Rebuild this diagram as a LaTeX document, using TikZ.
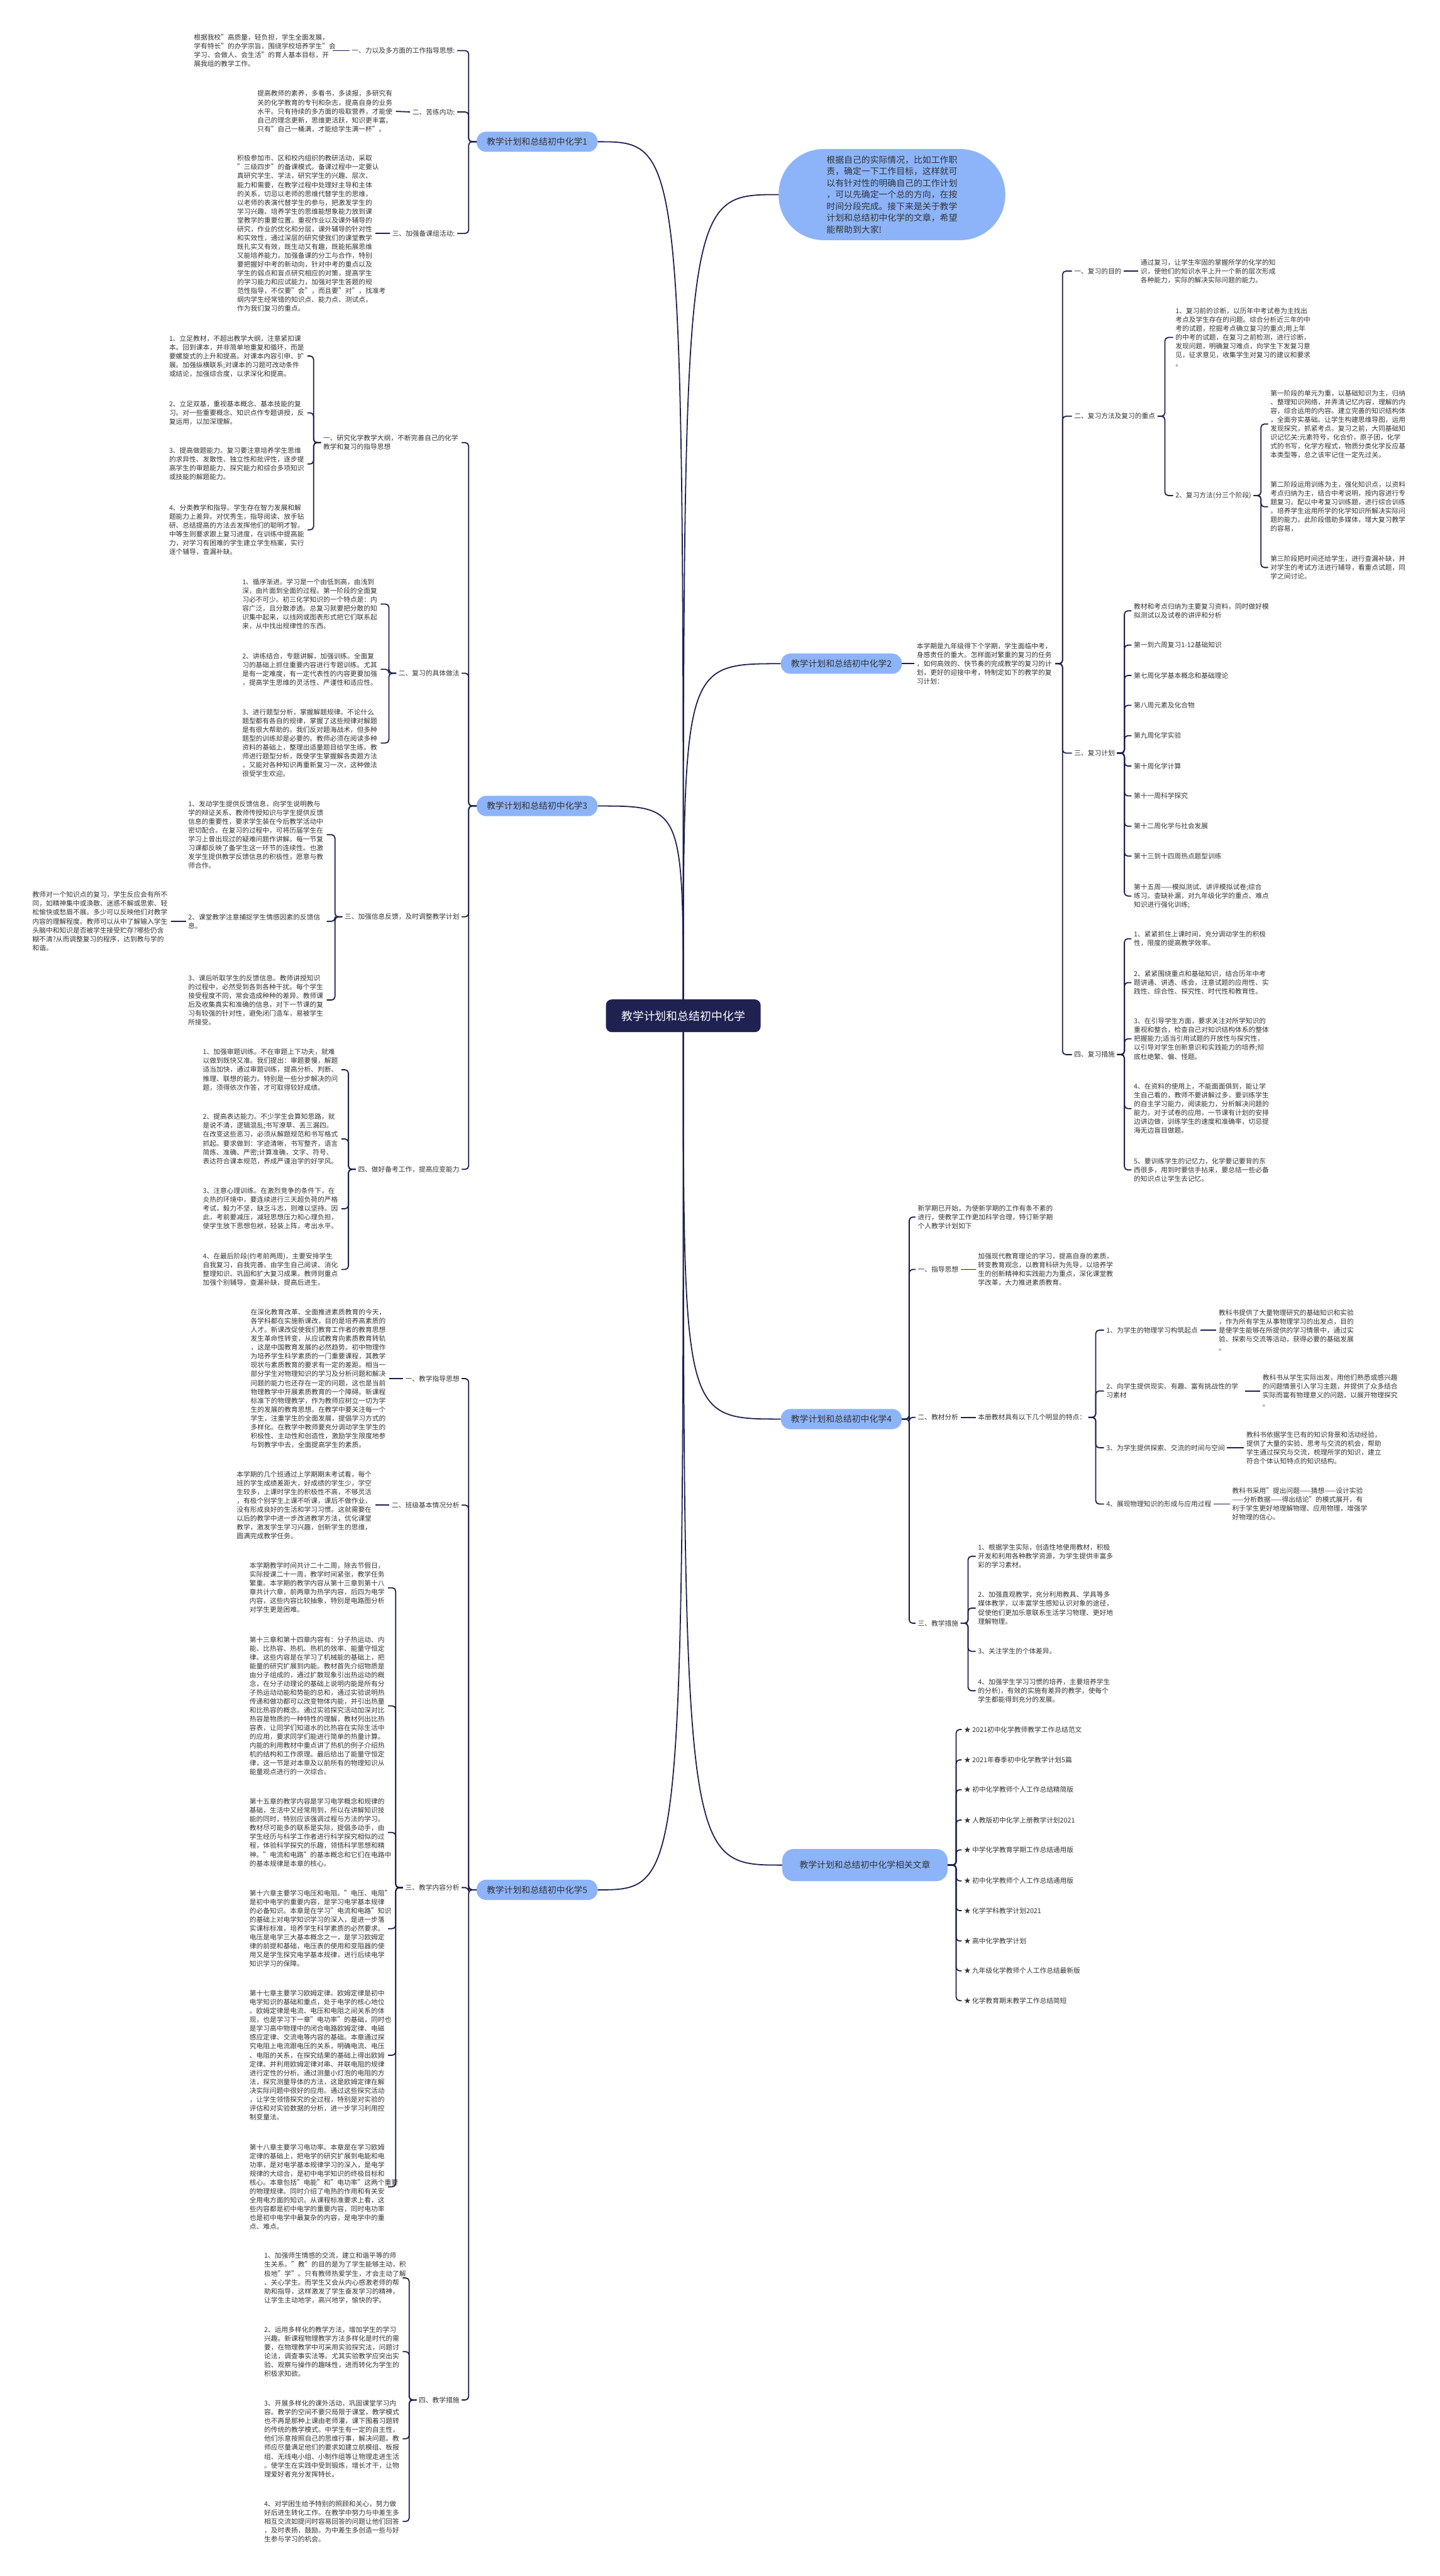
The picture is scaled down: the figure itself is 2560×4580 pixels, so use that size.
\documentclass[tikz,border=0pt]{standalone}
\usepackage{fontspec}
\setmainfont{Noto Sans CJK SC}
\usetikzlibrary{backgrounds}
\definecolor{brfill}{RGB}{141,180,249}
\definecolor{rootfill}{RGB}{31,34,81}
\definecolor{lnkc}{RGB}{29,31,79}
\definecolor{txtc}{RGB}{51,51,51}

\begin{document}
\begin{tikzpicture}[x=1pt,y=-1pt,
  txt/.style={font=\fontsize{12}{15.7}\selectfont, text=txtc, inner xsep=4pt, inner ysep=1pt, align=left},
  para/.style={txt, text width=242pt},
  br/.style={fill=brfill, rounded corners=17pt, font=\fontsize{15.5}{20}\selectfont, text=txtc, minimum width=215pt, minimum height=36pt, inner sep=2pt},
  rootbox/.style={fill=rootfill, text=white, rounded corners=10pt, minimum width=275pt, minimum height=58pt, font=\fontsize{20}{24}\selectfont},
  lnk/.style={draw=lnkc, line width=2pt, rounded corners=6pt},
  trunk/.style={draw=lnkc, line width=2pt}]
\useasboundingbox (0,0) rectangle (2560,4580);

% centre and main branches
\node[rootbox] (root) at (1215,1806) {教学计划和总结初中化学};
\node[br, rounded corners=80pt, minimum width=403pt, minimum height=162pt, align=left, font=\fontsize{15.5}{20.7}\selectfont] (intro) at (1586,346) {根据自己的实际情况，比如工作职\\责，确定一下工作目标，这样就可\\以有针对性的明确自己的工作计划\\，可以先确定一个总的方向，在按\\时间分段完成。接下来是关于教学\\计划和总结初中化学的文章，希望\\能帮助到大家!};
\node[br] (b1) at (955,252) {教学计划和总结初中化学1};
\node[br] (b2) at (1496,1180) {教学计划和总结初中化学2};
\node[br] (b3) at (955,1433) {教学计划和总结初中化学3};
\node[br] (b4) at (1496,2523) {教学计划和总结初中化学4};
\node[br] (b5) at (955,3360) {教学计划和总结初中化学5};
\node[br, minimum width=294pt, minimum height=57pt, rounded corners=20pt] (b6) at (1538,3316) {教学计划和总结初中化学相关文章};

\begin{scope}[on background layer]
\fill[white] (0,0) rectangle (2560,4580);
\foreach \n in {b1,b3,b5}
  \draw[trunk] (root.center) .. controls (root.center |- \n.east) .. (\n.east);
\foreach \n in {intro,b2,b4,b6}
  \draw[trunk] (root.center) .. controls (root.center |- \n.west) .. (\n.west);
\end{scope}

% branch 1
\node[txt, anchor=east] (s11) at (813,90) {一、力以及多方面的工作指导思想:};
\node[txt, anchor=east] (s12) at (813,199) {二、苦练内功:};
\node[txt, anchor=east] (s13) at (813,415) {三、加强备课组活动:};
\node[para, anchor=east] (l11) at (591,90) {根据我校"高质量，轻负担，学生全面发展，\\学有特长"的办学宗旨，围绕学校培养学生"会\\学习、会做人、会生活"的育人基本目标，开\\展我组的教学工作。};
\node[para, anchor=east] (l12) at (704,198) {提高教师的素养，多看书，多读报，多研究有\\关的化学教育的专刊和杂志，提高自身的业务\\水平。只有持续的多方面的吸取营养，才能使\\自己的理念更新，思维更活跃，知识更丰富。\\只有"自己一桶满，才能给学生满一杯"。};
\node[para, anchor=east] (l13) at (668,415) {积极参加市、区和校内组织的教研活动，采取\\"三级四步"的备课模式。备课过程中一定要认\\真研究学生、学法，研究学生的兴趣、层次、\\能力和需要，在教学过程中处理好主导和主体\\的关系，切忌以老师的思维代替学生的思维，\\以老师的表演代替学生的参与，把激发学生的\\学习兴趣、培养学生的思维能想象能力放到课\\堂教学的重要位置。重视作业以及课外辅导的\\研究，作业的优化和分层，课外辅导的针对性\\和实效性，通过深层的研究使我们的课堂教学\\既扎实又有效，既生动又有趣，既能拓展思维\\又能培养能力。加强备课的分工与合作，特别\\要把握好中考的新动向，针对中考的重点以及\\学生的弱点和盲点研究相应的对策，提高学生\\的学习能力和应试能力，加强对学生答题的规\\范性指导，不仅要"会"，而且要"对"，找准考\\纲内学生经常错的知识点、能力点、测试点，\\作为我们复习的重点。};
\foreach \n in {s11,s12,s13}
  \draw[lnk] (b1.west) -- ++(-14,0) |- (\n.east);
\draw[lnk] (s11.west) -- (l11.east);
\draw[lnk] (s12.west) -- (l12.east);
\draw[lnk] (s13.west) -- (l13.east);

% branch 2
\node[para, anchor=west] (p2) at (1626,1180) {本学期是九年级得下个学期，学生面临中考，\\身感责任的重大。怎样面对繁重的复习的任务\\，如何高效的、快节奏的完成教学的复习的计\\划，更好的迎接中考，特制定如下的教学的复\\习计划：};
\draw[lnk] (b2.east) -- (p2.west);
\node[txt, anchor=west] (s21) at (1906,482) {一、复习的目的};
\node[txt, anchor=west] (s22) at (1906,740) {二、复习方法及复习的重点};
\node[txt, anchor=west] (s23) at (1906,1339) {三、复习计划};
\node[txt, anchor=west] (s24) at (1906,1875) {四、复习措施};
\foreach \n in {s21,s22,s23,s24}
  \draw[lnk] (p2.east) -- ++(13,0) |- (\n.west);
\node[para, anchor=west] (l21) at (2024,482) {通过复习，让学生牢固的掌握所学的化学的知\\识，使他们的知识水平上升一个新的层次形成\\各种能力，实际的解决实际问题的能力。};
\draw[lnk] (s21.east) -- (l21.west);
\node[para, anchor=west] (c221) at (2086,600) {1、复习前的诊断，以历年中考试卷为主找出\\考点及学生存在的问题。综合分析近三年的中\\考的试题，挖掘考点确立复习的重点;用上年\\的中考的试题，在复习之前检测，进行诊断，\\发现问题，明确复习难点，向学生下发复习意\\见，征求意见，收集学生对复习的建议和要求\\。};
\node[txt, anchor=west] (c222) at (2086,881) {2、复习方法(分三个阶段)};
\foreach \n in {c221,c222}
  \draw[lnk] (s22.east) -- ++(13,0) |- (\n.west);
\node[para, anchor=west] (c2221) at (2255,754) {第一阶段的单元为重，以基础知识为主，归纳\\、整理知识网络，并弄清记忆内容，理解的内\\容，综合运用的内容。建立完善的知识结构体\\，全面夯实基础。让学生构建思维导图，运用\\发现探究，抓紧考点。复习之前，大同基础知\\识记忆关:元素符号，化合价，原子团，化学\\式的书写，化学方程式，物质分类化学反应基\\本类型等，总之该牢记住一定先过关。};
\node[para, anchor=west] (c2222) at (2255,901) {第二阶段运用训练为主，强化知识点，以资料\\考点归纳为主，结合中考说明，按内容进行专\\题复习。配以中考复习训练题，进行综合训练\\。培养学生运用所学的化学知识所解决实际问\\题的能力。此阶段借助多媒体，增大复习教学\\的容易，};
\node[para, anchor=west] (c2223) at (2255,1009) {第三阶段把时间还给学生，进行查漏补缺，并\\对学生的考试方法进行辅导，看重点试题，同\\学之间讨论。};
\foreach \n in {c2221,c2222,c2223}
  \draw[lnk] (c222.east) -- ++(13,0) |- (\n.west);
\node[para, anchor=west] (c231) at (2012,1086) {教材和考点归纳为主要复习资料，同时做好模\\拟测试以及试卷的讲评和分析};
\node[txt, anchor=west] (c232) at (2012,1147) {第一到六周复习1-12基础知识};
\node[txt, anchor=west] (c233) at (2012,1201) {第七周化学基本概念和基础理论};
\node[txt, anchor=west] (c234) at (2012,1254) {第八周元素及化合物};
\node[txt, anchor=west] (c235) at (2012,1308) {第九周化学实验};
\node[txt, anchor=west] (c236) at (2012,1362) {第十周化学计算};
\node[txt, anchor=west] (c237) at (2012,1415) {第十一周科学探究};
\node[txt, anchor=west] (c238) at (2012,1469) {第十二周化学与社会发展};
\node[txt, anchor=west] (c239) at (2012,1522) {第十三到十四周热点题型训练};
\node[para, anchor=west] (c2310) at (2012,1593) {第十五周——模拟测试、讲评模拟试卷;综合\\练习。查缺补漏，对九年级化学的重点、难点\\知识进行强化训练;};
\foreach \n in {c231,c232,c233,c234,c235,c236,c237,c238,c239,c2310}
  \draw[lnk] (s23.east) -- ++(13,0) |- (\n.west);
\node[para, anchor=west] (c241) at (2012,1669) {1、紧紧抓住上课时间，充分调动学生的积极\\性，限度的提高教学效率。};
\node[para, anchor=west] (c242) at (2012,1747) {2、紧紧围绕重点和基础知识，结合历年中考\\题讲通、讲透、练会，注意试题的应用性、实\\践性、综合性、探究性、时代性和教育性。};
\node[para, anchor=west] (c243) at (2012,1847) {3、在引导学生方面，要求关注对所学知识的\\重视和整合，检查自己对知识结构体系的整体\\把握能力;适当引用试题的开放性与探究性，\\以引导对学生创新意识和实践能力的培养;彻\\底杜绝繁、偏、怪题。};
\node[para, anchor=west] (c244) at (2012,1971) {4、在资料的使用上，不能面面俱到，能让学\\生自己看的，教师不要讲解过多，要训练学生\\的自主学习能力，阅读能力，分析解决问题的\\能力。对于试卷的应用，一节课有计划的安排\\边讲边做，训练学生的速度和准确率，切忌提\\海无边盲目做题。};
\node[para, anchor=west] (c245) at (2012,2080) {5、要训练学生的记忆力，化学要记要背的东\\西很多，用到时要信手拈来，要总结一些必备\\的知识点让学生去记忆。};
\foreach \n in {c241,c242,c243,c244,c245}
  \draw[lnk] (s24.east) -- ++(13,0) |- (\n.west);

% branch 3
\node[para, anchor=east] (s31) at (821,787) {一、研究化学教学大纲，不断完善自己的化学\\教学和复习的指导思想};
\node[txt, anchor=east] (s32) at (821,1197) {二、复习的具体做法};
\node[txt, anchor=east] (s33) at (821,1630) {三、加强信息反馈，及时调整教学计划};
\node[txt, anchor=east] (s34) at (821,2079) {四、做好备考工作，提高应变能力};
\foreach \n in {s31,s32,s33,s34}
  \draw[lnk] (b3.west) -- ++(-14,0) |- (\n.east);
\node[para, anchor=east] (c311) at (547,633) {1、立足教材，不超出教学大纲，注意紧扣课\\本。回到课本，并非简单地重复和循环，而是\\要螺旋式的上升和提高。对课本内容引申、扩\\展。加强纵横联系;对课本的习题可改动条件\\或结论，加强综合度，以求深化和提高。};
\node[para, anchor=east] (c312) at (547,734) {2、立足双基，重视基本概念、基本技能的复\\习。对一些重要概念、知识点作专题讲授，反\\复运用，以加深理解。};
\node[para, anchor=east] (c313) at (547,825) {3、提高做题能力。复习要注意培养学生思维\\的求异性、发散性、独立性和批评性，逐步提\\高学生的审题能力、探究能力和综合多项知识\\或技能的解题能力。};
\node[para, anchor=east] (c314) at (547,942) {4、分类教学和指导。学生存在智力发展和解\\题能力上差异。对优秀生，指导阅读、放手钻\\研、总结提高的方法去发挥他们的聪明才智。\\中等生则要求跟上复习进度，在训练中提高能\\力，对学习有困难的学生建立学生档案，实行\\逐个辅导，查漏补缺。};
\foreach \n in {c311,c312,c313,c314}
  \draw[lnk] (s31.west) -- ++(-13,0) |- (\n.east);
\node[para, anchor=east] (c321) at (677,1074) {1、循序渐进。学习是一个由低到高，由浅到\\深，由片面到全面的过程。第一阶段的全面复\\习必不可少。初三化学知识的一个特点是：内\\容广泛，且分散渗透。总复习就要把分散的知\\识集中起来，以线网或图表形式把它们联系起\\来，从中找出规律性的东西。};
\node[para, anchor=east] (c322) at (677,1190) {2、讲练结合，专题讲解，加强训练。全面复\\习的基础上抓住重要内容进行专题训练。尤其\\是有一定难度，有一定代表性的内容更要加强\\，提高学生思维的灵活性、严谨性和适应性。};
\node[para, anchor=east] (c323) at (677,1321) {3、进行题型分析，掌握解题规律。不论什么\\题型都有各自的规律，掌握了这些规律对解题\\是有很大帮助的。我们反对题海战术，但多种\\题型的训练却是必要的。教师必须在阅读多种\\资料的基础上，整理出适量题目给学生练。教\\师进行题型分析，既使学生掌握解各类题方法\\，又能对各种知识再重新复习一次，这种做法\\很受学生欢迎。};
\foreach \n in {c321,c322,c323}
  \draw[lnk] (s32.west) -- ++(-13,0) |- (\n.east);
\node[para, anchor=east] (c331) at (581,1484) {1、发动学生提供反馈信息，向学生说明教与\\学的辩证关系、教师传授知识与学生提供反馈\\信息的重要性，要求学生装在今后教学活动中\\密切配合。在复习的过程中，可将历届学生在\\学习上曾出现过的疑难问题作讲解。每一节复\\习课都反映了备学生这一环节的连续性。也激\\发学生提供教学反馈信息的积极性，愿意与教\\师合作。};
\node[para, anchor=east] (c332) at (581,1638) {2、课堂教学注意捕捉学生情感因素的反馈信\\息。};
\node[para, anchor=east] (c333) at (581,1778) {3、课后听取学生的反馈信息。教师讲授知识\\的过程中，必然受到各到各种干扰。每个学生\\接受程度不同，常会造成种种的差异。教师课\\后及收集真实和准确的信息，对下一节课的复\\习有较强的针对性，避免闭门造车，易被学生\\所接受。};
\foreach \n in {c331,c332,c333}
  \draw[lnk] (s33.west) -- ++(-13,0) |- (\n.east);
\node[para, anchor=east] (l332) at (304,1638) {教师对一个知识点的复习，学生反应会有所不\\同，如精神集中或涣散、迷惑不解或思索、轻\\松愉快或愁眉不展。多少可以反映他们对教学\\内容的理解程度。教师可以从中了解输入学生\\头脑中和知识是否被学生接受贮存?哪些仍含\\糊不清?从而调整复习的程序，达到教与学的\\和谐。};
\draw[lnk] (c332.west) -- (l332.east);
\node[para, anchor=east] (c341) at (607,1902) {1、加强审题训练。不在审题上下功夫，就难\\以做到既快又准。我们提出：审题要慢，解题\\适当加快，通过审题训练，提高分析、判断、\\推理、联想的能力。特别是一些分步解决的问\\题，须得依次作答，才可取得较好成绩。};
\node[para, anchor=east] (c342) at (607,2025) {2、提高表达能力。不少学生会算知思路，就\\是说不清，逻辑混乱;书写潦草、丢三漏四。\\在改变这些恶习，必须从解题规范和书写格式\\抓起。要求做到：字迹清晰，书写整齐，语言\\简炼、准确、严密;计算准确，文字、符号、\\表达符合课本规范，养成严谨治学的好学风。};
\node[para, anchor=east] (c343) at (607,2149) {3、注意心理训练。在激烈竞争的条件下，在\\炎热的环境中，要连续进行三天超负荷的严格\\考试，毅力不坚，缺乏斗志，则难以坚持。因\\此，考前要减压，减轻思想压力和心理负担，\\使学生放下思想包袱，轻装上阵，考出水平。};
\node[para, anchor=east] (c344) at (607,2257) {4、在最后阶段(约考前两周)，主要安排学生\\自我复习，自我完善。由学生自己阅读、消化\\整理知识、巩固和扩大复习成果。教师则重点\\加强个别辅导，查漏补缺，提高后进生。};
\foreach \n in {c341,c342,c343,c344}
  \draw[lnk] (s34.west) -- ++(-13,0) |- (\n.east);

% branch 4
\node[para, anchor=west] (c41) at (1628,2164) {新学期已开始，为使新学期的工作有条不紊的\\进行，使教学工作更加科学合理，特订新学期\\个人教学计划如下};
\node[txt, anchor=west] (s41) at (1628,2257) {一、指导思想};
\node[txt, anchor=west] (s42) at (1628,2520) {二、教材分析};
\node[txt, anchor=west] (s43) at (1628,2886) {三、教学措施};
\foreach \n in {c41,s41,s42,s43}
  \draw[lnk] (b4.east) -- ++(13,0) |- (\n.west);
\node[para, anchor=west] (l41) at (1735,2257) {加强现代教育理论的学习，提高自身的素质，\\转变教育观念，以教育科研为先导，以培养学\\生的创新精神和实践能力为重点，深化课堂教\\学改革，大力推进素质教育。};
\draw[lnk] (s41.east) -- (l41.west);
\node[txt, anchor=west] (m42) at (1735,2520) {本册教材具有以下几个明显的特点：};
\draw[lnk] (s42.east) -- (m42.west);
\node[txt, anchor=west] (s421) at (1963,2365) {1、为学生的物理学习构筑起点};
\node[para, anchor=west] (s422) at (1963,2473) {2、向学生提供现实、有趣、富有挑战性的学\\习素材};
\node[txt, anchor=west] (s423) at (1963,2574) {3、为学生提供探索、交流的时间与空间};
\node[txt, anchor=west] (s424) at (1963,2674) {4、展现物理知识的形成与应用过程};
\foreach \n in {s421,s422,s423,s424}
  \draw[lnk] (m42.east) -- ++(13,0) |- (\n.west);
\node[para, anchor=west] (l421) at (2163,2365) {教科书提供了大量物理研究的基础知识和实验\\，作为所有学生从事物理学习的出发点，目的\\是使学生能够在所提供的学习情景中，通过实\\验、探索与交流等活动，获得必要的基础发展\\。};
\node[para, anchor=west] (l422) at (2241,2473) {教科书从学生实际出发，用他们熟悉或感兴趣\\的问题情景引入学习主题，并提供了众多结合\\实际而富有物理意义的问题，以展开物理探究\\。};
\node[para, anchor=west] (l423) at (2212,2574) {教科书依据学生已有的知识背景和活动经验，\\提供了大量的实验、思考与交流的机会，帮助\\学生通过探究与交流，梳理所学的知识，建立\\符合个体认知特点的知识结构。};
\node[para, anchor=west] (l424) at (2187,2674) {教科书采用"提出问题——猜想——设计实验\\——分析数据——得出结论"的模式展开，有\\利于学生更好地理解物理、应用物理，增强学\\好物理的信心。};
\draw[lnk] (s421.east) -- (l421.west);
\draw[lnk] (s422.east) -- (l422.west);
\draw[lnk] (s423.east) -- (l423.west);
\draw[lnk] (s424.east) -- (l424.west);
\node[para, anchor=west] (c431) at (1735,2767) {1、根据学生实际，创造性地使用教材，积极\\开发和利用各种教学资源，为学生提供丰富多\\彩的学习素材。};
\node[para, anchor=west] (c432) at (1735,2859) {2、加强直观教学，充分利用教具、学具等多\\媒体教学，以丰富学生感知认识对象的途径，\\促使他们更加乐意联系生活学习物理、更好地\\理解物理。};
\node[txt, anchor=west] (c433) at (1735,2936) {3、关注学生的个体差异。};
\node[para, anchor=west] (c434) at (1735,3006) {4、加强学生学习习惯的培养，主要培养学生\\的分析)，有效的实施有差异的教学，使每个\\学生都能得到充分的发展。};
\foreach \n in {c431,c432,c433,c434}
  \draw[lnk] (s43.east) -- ++(13,0) |- (\n.west);

% branch 5
\node[txt, anchor=east] (s51) at (821,2451) {一、教学指导思想};
\node[txt, anchor=east] (s52) at (821,2676) {二、班级基本情况分析};
\node[txt, anchor=east] (s53) at (821,3356) {三、教学内容分析};
\node[txt, anchor=east] (s54) at (821,4267) {四、教学措施};
\foreach \n in {s51,s52,s53,s54}
  \draw[lnk] (b5.west) -- ++(-14,0) |- (\n.east);
\node[para, anchor=east] (l51) at (692,2451) {在深化教育改革、全面推进素质教育的今天，\\各学科都在实施新课改，目的是培养高素质的\\人才。新课改促使我们教育工作者的教育思想\\发生革命性转变，从应试教育向素质教育转轨\\，这是中国教育发展的必然趋势。初中物理作\\为培养学生科学素质的一门重要课程，其教学\\现状与素质教育的要求有一定的差距。相当一\\部分学生对物理知识的学习及分析问题和解决\\问题的能力也还存在一定的问题，这也是当前\\物理教学中开展素质教育的一个障碍。新课程\\标准下的物理教学，作为教师应树立一切为学\\生的发展的教育思想。在教学中要关注每一个\\学生，注重学生的全面发展，提倡学习方式的\\多样化。在教学中教师要充分调动学生学生的\\积极性、主动性和创造性，激励学生限度地参\\与到教学中去，全面提高学生的素质。};
\node[para, anchor=east] (l52) at (667,2676) {本学期的几个班通过上学期期末考试看，每个\\班的学生成绩差距大，好成绩的学生少，学空\\生较多，上课时学生的积极性不高，不够灵活\\，有极个别学生上课不听课，课后不做作业，\\没有形成良好的生活和学习习惯。这就需要在\\以后的教学中进一步改进教学方法，优化课堂\\教学，激发学生学习兴趣，创新学生的思维，\\圆满完成教学任务。};
\draw[lnk] (s51.west) -- (l51.east);
\draw[lnk] (s52.west) -- (l52.east);
\node[para, anchor=east] (c531) at (690,2823) {本学期教学时间共计二十二周，除去节假日，\\实际授课二十一周，教学时间紧张，教学任务\\繁重。本学期的教学内容从第十三章到第十八\\章共计六章，前两章为热学内容，后四为电学\\内容，这些内容比较抽象，特别是电路图分析\\对学生更是困难。};
\node[para, anchor=east] (c532) at (690,3033) {第十三章和第十四章内容有：分子热运动、内\\能、比热容、热机、热机的效率、能量守恒定\\律。这些内容是在学习了机械能的基础上，把\\能量的研究扩展到内能。教材首先介绍物质是\\由分子组成的，通过扩散现象引出热运动的概\\念，在分子动理论的基础上说明内能是所有分\\子热运动动能和势能的总和，通过实验说明热\\传递和做功都可以改变物体内能，并引出热量\\和比热容的概念。通过实验探究活动加深对比\\热容是物质的一种特性的理解，教材列出比热\\容表，让同学们知道水的比热容在实际生活中\\的应用，要求同学们能进行简单的热量计算。\\内能的利用教材中重点讲了热机的例子介绍热\\机的结构和工作原理。最后给出了能量守恒定\\律，这一节是对本章及以前所有的物理知识从\\能量观点进行的一次综合。};
\node[para, anchor=east] (c533) at (690,3258) {第十五章的教学内容是学习电学概念和规律的\\基础，生活中又经常用到，所以在讲解知识技\\能的同时，特别应该强调过程与方法的学习。\\教材尽可能多的联系是实际，提倡多动手，由\\学生经历与科学工作者进行科学探究相似的过\\程，体验科学探究的乐趣，领悟科学思想和精\\神。"电流和电路"的基本概念和它们在电路中\\的基本规律是本章的核心。};
\node[para, anchor=east] (c534) at (690,3429) {第十六章主要学习电压和电阻。"电压、电阻"\\是初中电学的重要内容，是学习电学基本规律\\的必备知识。本章是在学习"电流和电路"知识\\的基础上对电学知识学习的深入，是进一步落\\实课标标准，培养学生科学素质的必然要求。\\电压是电学三大基本概念之一，是学习欧姆定\\律的前提和基础，电压表的使用和变阻器的使\\用又是学生探究电学基本规律，进行后续电学\\知识学习的保障。};
\node[para, anchor=east] (c535) at (690,3654) {第十七章主要学习欧姆定律。欧姆定律是初中\\电学知识的基础和重点，处于电学的核心地位\\。欧姆定律是电流、电压和电阻之间关系的体\\现，也是学习下一章"电功率"的基础，同时也\\是学习高中物理中的闭合电路欧姆定律、电磁\\感应定律、交流电等内容的基础。本章通过探\\究电阻上电流跟电压的关系，明确电流、电压\\、电阻的关系，在探究结果的基础上得出欧姆\\定律。并利用欧姆定律对串、并联电阻的规律\\进行定性的分析。通过测量小灯泡的电阻的方\\法，探究测量导体的方法，这是欧姆定律在解\\决实际问题中很好的应用。通过这些探究活动\\，让学生领悟探究的全过程，特别是对实验的\\评估和对实验数据的分析，进一步学习利用控\\制变量法。};
\node[para, anchor=east] (c536) at (690,3888) {第十八章主要学习电功率。本章是在学习欧姆\\定律的基础上，把电学的研究扩展到电能和电\\功率，是对电学基本规律学习的深入，是电学\\规律的大综合，是初中电学知识的终极目标和\\核心。本章包括"电能"和"电功率"这两个重要\\的物理规律。同时介绍了电热的作用和有关安\\全用电方面的知识。从课程标准要求上看，这\\些内容都是初中电学的重要内容，同时电功率\\也是初中电学中最复杂的内容，是电学中的重\\点、难点。};
\foreach \n in {c531,c532,c533,c534,c535,c536}
  \draw[lnk] (s53.west) -- ++(-13,0) |- (\n.east);
\node[para, anchor=east] (c541) at (716,4050) {1、加强师生情感的交流，建立和谐平等的师\\生关系。"教"的目的是为了学生能够主动，积\\极地"学"。只有教师热爱学生，才会主动了解\\、关心学生。而学生又会从内心感激老师的帮\\助和指导，这样激发了学生奋发学习的精神，\\让学生主动地学，高兴地学，愉快的学。};
\node[para, anchor=east] (c542) at (716,4181) {2、运用多样化的教学方法，增加学生的学习\\兴趣。新课程物理教学方法多样化是时代的需\\要，在物理教学中可采用实验探究法，问题讨\\论法，调查事实法等。尤其实验教学应突出实\\验、观察与操作的趣味性，进而转化为学生的\\积极求知欲。};
\node[para, anchor=east] (c543) at (716,4336) {3、开展多样化的课外活动，巩固课堂学习内\\容。教学的空间不要只局限于课堂，教学模式\\也不再是那种上课由老师灌，课下围着习题转\\的传统的教学模式。中学生有一定的自主性，\\他们乐意按照自己的思维行事，解决问题。教\\师应尽量满足他们的要求如建立航模组、板报\\组、无线电小组、小制作组等让物理走进生活\\。使学生在实践中受到锻炼，增长才干，让物\\理爱好者充分发挥特长。};
\node[para, anchor=east] (c544) at (716,4483) {4、对学困生给予特别的照顾和关心，努力做\\好后进生转化工作。在教学中努力与中差生多\\相互交流如提问时容易回答的问题让他们回答\\，及时表扬，鼓励。为中差生多创造一些与好\\生参与学习的机会。};
\foreach \n in {c541,c542,c543,c544}
  \draw[lnk] (s54.west) -- ++(-13,0) |- (\n.east);

% branch 6
\node[txt, anchor=west] (r1) at (1710,3075) {★ 2021初中化学教师教学工作总结范文};
\node[txt, anchor=west] (r2) at (1710,3129) {★ 2021年春季初中化学教学计划5篇};
\node[txt, anchor=west] (r3) at (1710,3182) {★ 初中化学教师个人工作总结精简版};
\node[txt, anchor=west] (r4) at (1710,3236) {★ 人教版初中化学上册教学计划2021};
\node[txt, anchor=west] (r5) at (1710,3289) {★ 中学化学教育学期工作总结通用版};
\node[txt, anchor=west] (r6) at (1710,3344) {★ 初中化学教师个人工作总结通用版};
\node[txt, anchor=west] (r7) at (1710,3397) {★ 化学学科教学计划2021};
\node[txt, anchor=west] (r8) at (1710,3451) {★ 高中化学教学计划};
\node[txt, anchor=west] (r9) at (1710,3504) {★ 九年级化学教师个人工作总结最新版};
\node[txt, anchor=west] (r10) at (1710,3557) {★ 化学教育期末教学工作总结简短};
\foreach \n in {r1,r2,r3,r4,r5,r6,r7,r8,r9,r10}
  \draw[lnk] (b6.east) -- ++(15,0) |- (\n.west);
\end{tikzpicture}
\end{document}
